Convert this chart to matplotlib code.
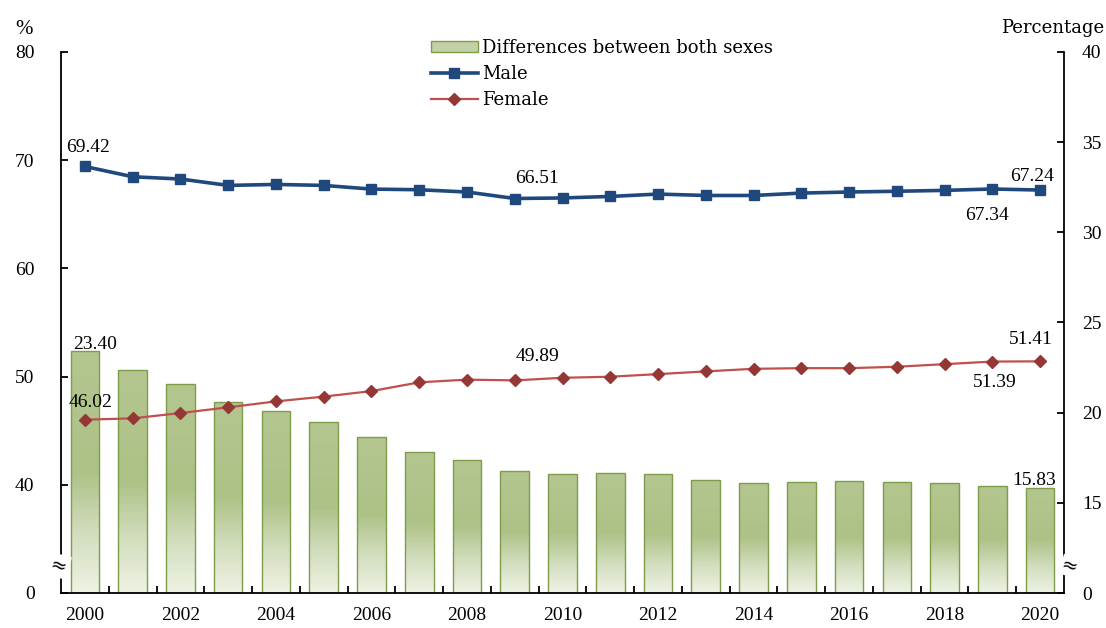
import numpy as np
import matplotlib
matplotlib.use("Agg")
import matplotlib.pyplot as plt
from matplotlib.colors import LinearSegmentedColormap
from matplotlib.patches import Patch
from matplotlib.lines import Line2D

years = list(range(2000, 2021))
male = [69.42, 68.47, 68.26, 67.67, 67.76, 67.67, 67.33, 67.27, 67.06, 66.46, 66.51,
        66.65, 66.87, 66.74, 66.74, 66.96, 67.06, 67.13, 67.21, 67.34, 67.24]
female = [46.02, 46.14, 46.63, 47.16, 47.71, 48.15, 48.66, 49.47, 49.72, 49.65, 49.89,
          49.99, 50.23, 50.48, 50.72, 50.78, 50.78, 50.91, 51.15, 51.39, 51.41]
diff = [23.40, 22.35, 21.61, 20.58, 20.08, 19.47, 18.67, 17.80, 17.38, 16.75, 16.62,
        16.64, 16.58, 16.27, 16.10, 16.16, 16.21, 16.16, 16.10, 15.95, 15.83]
xtick_labels = [str(y) for y in years[::2]]
left_ticks = [30, 40, 50, 60, 70, 80]
left_ticklabels = ["0", "40", "50", "60", "70", "80"]
right_ticks = [10, 15, 20, 25, 30, 35, 40]
right_ticklabels = ["0", "15", "20", "25", "30", "35", "40"]

FONT = "Liberation Serif"
plt.rcParams["font.family"] = [FONT, "DejaVu Serif"]
WIDE = ["DejaVu Serif"]

W, H = 1106, 628
fig = plt.figure(figsize=(W / 100, H / 100), dpi=100)
L, R, B, T = 61, 1064, 593, 52
ax = fig.add_axes([L / W, 1 - B / H, (R - L) / W, (B - T) / H])
ax2 = ax.twinx()
ax.set_zorder(ax2.get_zorder() + 1)
ax.patch.set_visible(False)

x = np.arange(len(years))

# --- bars on right axis (broken scale: 10 shown as 0)
ax2.set_ylim(10, 40)
base = 10
bars = ax2.bar(x, np.array(diff) - base, bottom=base, width=0.6,
               facecolor="none", edgecolor="#7f9c4a", linewidth=1.0, zorder=3)
cmap = LinearSegmentedColormap.from_list(
    "g", [(0.0, "#eef3e4"), (0.25, "#d2ddbd"), (0.5, "#adc287"), (0.75, "#b0c48b"), (1.0, "#b3c690")])
grad = np.linspace(0, 1, 256).reshape(-1, 1)
for b in bars:
    bx, by = b.get_x(), b.get_y()
    bw, bh = b.get_width(), b.get_height()
    im = ax2.imshow(grad, cmap=cmap, origin="lower", aspect="auto",
                    extent=[bx, bx + bw, by, by + bh], zorder=2)
    im.set_clip_path(b)

# --- lines on left axis (broken scale: 30 shown as 0)
ax.set_ylim(30, 80)
ax.set_xlim(-0.5, len(years) - 0.5)
ax.plot(x, male, color="#1f497d", lw=2.6, marker="s", ms=7, mfc="#1f497d", mec="#1f497d", zorder=4)
ax.plot(x, female, color="#c0504d", lw=1.6, marker="D", ms=6.5, mfc="#953735", mec="#953735", zorder=4)

# axes styling
for a in (ax, ax2):
    a.spines["top"].set_visible(False)
    for s in ("left", "right", "bottom"):
        a.spines[s].set_linewidth(1.3)
ax2.spines["left"].set_visible(False)
ax2.spines["bottom"].set_visible(False)
ax.spines["right"].set_visible(False)

ax.set_yticks(left_ticks)
ax.set_yticklabels(left_ticklabels)
ax.tick_params(axis="y", direction="in", length=5, width=1.3, pad=19, labelsize=14)
ax2.set_yticks(right_ticks)
ax2.set_yticklabels(right_ticklabels)
ax2.tick_params(axis="y", direction="in", length=5, width=1.3, pad=13, labelsize=14)

ax.set_xticks(x[::2])
ax.set_xticklabels(xtick_labels)
ax.set_xticks(np.arange(len(years) - 1) + 0.5, minor=True)
ax.tick_params(axis="x", which="major", length=0, pad=10, labelsize=14)
ax.tick_params(axis="x", which="minor", direction="in", length=5, width=1.3)
ax.set_xlim(-0.5, len(years) - 0.5)

# break marks
fig.text(59 / W, 1 - 566 / H, "\u2248", ha="center", va="center", fontsize=14,
         family=["DejaVu Sans"], rotation=-15, bbox=dict(fc="white", ec="none", pad=1.5))
fig.text(1070 / W, 1 - 566 / H, "\u2248", ha="center", va="center", fontsize=14,
         family=["DejaVu Sans"], rotation=-15, bbox=dict(fc="white", ec="none", pad=0.5))

# axis unit labels
fig.text(24 / W, 1 - 29 / H, "%", ha="center", va="center", fontsize=15)
fig.text(1104 / W, 1 - 28 / H, "Percentage", ha="right", va="center", fontsize=13, family=WIDE)

# value labels
def lab(axis, i, v, dx, dy):
    axis.annotate(f"{v:.2f}", xy=(i, v), xytext=(dx, dy), textcoords="offset points",
                  ha="center", va="center", fontsize=14, zorder=6)

lab(ax, 0, male[0], 2, 14)
lab(ax, 10, male[10], -18, 14)
lab(ax, 20, male[20], -6, 10)
lab(ax, 19, male[19], -4, -19)
lab(ax, 0, female[0], 4, 12)
lab(ax, 10, female[10], -18, 15)
lab(ax, 20, female[20], -7, 16)
lab(ax, 19, female[19], 1.5, -15)
lab(ax2, 0, diff[0], 7, 5)
lab(ax2, 20, diff[20], -4, 5)

# legend
handles = [Patch(facecolor="#c3d2a6", edgecolor="#7f9c4a", linewidth=1.0),
           Line2D([], [], color="#1f497d", lw=2.6, marker="s", ms=7),
           Line2D([], [], color="#c0504d", lw=1.6, marker="D", ms=6.5, mfc="#953735", mec="#953735")]
labels = ["Differences between both sexes", "Male", "Female"]
leg = fig.legend(handles, labels, loc="upper left", bbox_to_anchor=(431 / W, 1 - 39 / H),
                 frameon=False, prop={"family": WIDE, "size": 13}, handlelength=2.6, handleheight=0.5,
                 handletextpad=0.25, labelspacing=0.45, borderpad=0, borderaxespad=0)

fig.savefig("out.png", dpi=100)
